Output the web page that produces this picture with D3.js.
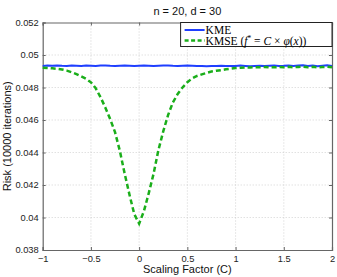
<!DOCTYPE html>
<html>
<head>
<meta charset="utf-8">
<style>
  body { margin: 0; background: #fff; }
  text { font-family: "Liberation Sans", Arial, sans-serif; }
</style>
</head>
<body>
<svg width="337" height="277"></svg>
<script src="https://d3js.org/d3.v7.min.js"></script>
<script>

// scaling factor C and risks
var cValues = [-1, -0.95, -0.9, -0.85, -0.8, -0.75, -0.7, -0.65, -0.6, -0.55, -0.5, -0.45, -0.4, -0.35, -0.3,
    -0.25, -0.2, -0.15, -0.1, -0.05, 0, 0.05, 0.1, 0.15, 0.2, 0.25, 0.3, 0.35, 0.4, 0.45, 0.5, 0.55, 0.6,
    0.65, 0.7, 0.75, 0.8, 0.85, 0.9, 0.95, 1, 1.05, 1.1, 1.15, 1.2, 1.25, 1.3, 1.35, 1.4, 1.45, 1.5, 1.55,
    1.6, 1.65, 1.7, 1.75, 1.8, 1.85, 1.9, 1.95, 2];

var kme = [0.04933, 0.04935, 0.04934, 0.04936, 0.04934, 0.04933, 0.04935, 0.04934, 0.04933, 0.04935, 0.04934,
    0.04933, 0.04935, 0.04936, 0.04934, 0.04933, 0.04934, 0.04935, 0.04934, 0.04933, 0.04934, 0.04935, 0.04934,
    0.04933, 0.04934, 0.04935, 0.04936, 0.04934, 0.04933, 0.04934, 0.04935, 0.04934, 0.04933, 0.04932, 0.04931,
    0.04932, 0.04933, 0.04934, 0.04933, 0.04932, 0.04933, 0.04935, 0.04933, 0.04931, 0.04933, 0.04934, 0.04932,
    0.04934, 0.04935, 0.04933, 0.04934, 0.04936, 0.04933, 0.04935, 0.04937, 0.04933, 0.04936, 0.04931, 0.04934,
    0.04937, 0.04932];

var kmse = [0.04922, 0.04920, 0.04918, 0.04915, 0.04911, 0.04904, 0.04894, 0.04882, 0.04868, 0.04853, 0.04832,
    0.04795, 0.04740, 0.04676, 0.04605, 0.04525, 0.04410, 0.04270, 0.04140, 0.04020, 0.03962, 0.04040, 0.04150,
    0.04270, 0.04415, 0.04530, 0.04630, 0.04708, 0.04760, 0.04800, 0.04833, 0.04856, 0.04871, 0.04881, 0.04890,
    0.04898, 0.04903, 0.04907, 0.04912, 0.04916, 0.04920, 0.04922, 0.04924, 0.04923, 0.04925, 0.04924, 0.04926,
    0.04925, 0.04924, 0.04926, 0.04925, 0.04927, 0.04925, 0.04926, 0.04928, 0.04925, 0.04927, 0.04924, 0.04926,
    0.04928, 0.04925];

var xTicks = [-1, -0.5, 0, 0.5, 1, 1.5, 2];
var yTicks = [0.038, 0.04, 0.042, 0.044, 0.046, 0.048, 0.05, 0.052];

var svg = d3.select("svg"),
    margin = {top: 22.5, right: 5, bottom: 27, left: 42.7},
    width = 337 - margin.left - margin.right,
    height = 277 - margin.top - margin.bottom,
    g = svg.append("g").attr("transform", "translate(" + margin.left + "," + margin.top + ")");

var x = d3.scaleLinear().domain([-1, 2]).range([0, width]);
var y = d3.scaleLinear().domain([0.038, 0.052]).range([height, 0]);

// dotted grid
g.selectAll(".gx").data(xTicks.slice(1, -1)).enter().append("line")
    .attr("x1", d => x(d)).attr("x2", d => x(d))
    .attr("y1", 0).attr("y2", height)
    .attr("stroke", "#c8c8c8").attr("stroke-width", 0.8).attr("stroke-dasharray", "1,2");
g.selectAll(".gy").data(yTicks.slice(1, -1)).enter().append("line")
    .attr("x1", 0).attr("x2", width)
    .attr("y1", d => y(d)).attr("y2", d => y(d))
    .attr("stroke", "#c8c8c8").attr("stroke-width", 0.8).attr("stroke-dasharray", "1,2");

// axes
var fmt = d => d === 0.04 ? "0.04" : d === 0.05 ? "0.05" : d3.format(".3f")(d);
var xAxis = g.append("g").attr("transform", "translate(0," + height + ")")
    .call(d3.axisBottom(x).tickValues(xTicks).tickSize(-3).tickPadding(5)
        .tickFormat(d => d < 0 ? "\u2212" + Math.abs(d) : d));
var yAxis = g.append("g")
    .call(d3.axisLeft(y).tickValues(yTicks).tickSize(-3).tickPadding(4).tickFormat(fmt));
var xTop = g.append("g").call(d3.axisTop(x).tickValues(xTicks).tickSize(-3).tickFormat(""));
var yRight = g.append("g").attr("transform", "translate(" + width + ",0)")
    .call(d3.axisRight(y).tickValues(yTicks).tickSize(-3).tickFormat(""));

[xAxis, yAxis, xTop, yRight].forEach(function (a) {
    a.selectAll("path").attr("stroke", "#666").attr("stroke-width", 1.2);
    a.selectAll("line").attr("stroke", "#666");
    a.selectAll("text").attr("font-size", 9.3).attr("fill", "#222")
        .style("font-family", "'Liberation Sans', Arial, sans-serif");
});

var line = d3.line().x((d, i) => x(cValues[i])).y(d => y(d));

g.append("path").datum(kme)
    .attr("d", line)
    .attr("fill", "none")
    .attr("stroke", "#1f3fff")
    .attr("stroke-width", 2);

g.append("path").datum(kmse)
    .attr("d", line)
    .attr("fill", "none")
    .attr("stroke", "#1aae1a")
    .attr("stroke-width", 2.5)
    .attr("stroke-dasharray", "5,3");

// legend
var lg = g.append("g").attr("transform", "translate(" + x(0.43) + ",0)");
lg.append("rect")
    .attr("x", 0).attr("y", 0)
    .attr("width", width - x(0.43)).attr("height", 24)
    .attr("fill", "#fff").attr("stroke", "#222").attr("stroke-width", 1);
lg.append("line").attr("x1", 4).attr("x2", 24).attr("y1", 7.5).attr("y2", 7.5)
    .attr("stroke", "#1f3fff").attr("stroke-width", 2);
lg.append("line").attr("x1", 4).attr("x2", 24).attr("y1", 18).attr("y2", 18)
    .attr("stroke", "#1aae1a").attr("stroke-width", 2.5).attr("stroke-dasharray", "4,2.5");
var serif = "'Liberation Serif', 'Times New Roman', serif";
lg.append("text").attr("x", 25).attr("y", 11.5).attr("font-size", 11.5)
    .style("font-family", serif).text("KME");
var t2 = lg.append("text").attr("x", 25).attr("y", 22).attr("font-size", 11.5)
    .style("font-family", serif);
t2.append("tspan").text("KMSE (");
t2.append("tspan").attr("font-style", "italic").text("f");
t2.append("tspan").attr("font-size", 7.5).attr("dy", -4).text("*");
t2.append("tspan").attr("dy", 4).text(" = ");
t2.append("tspan").attr("font-style", "italic").text("C");
t2.append("tspan").text(" \u00d7 ");
t2.append("tspan").attr("font-style", "italic").text("\u03c6");
t2.append("tspan").text("(");
t2.append("tspan").attr("font-style", "italic").text("x");
t2.append("tspan").text("))");

// title and labels
svg.append("text").attr("x", margin.left + width / 2).attr("y", 15)
    .attr("text-anchor", "middle").attr("font-size", 11).attr("fill", "#111")
    .text("n = 20, d = 30");
svg.append("text").attr("x", margin.left + width / 2).attr("y", 273)
    .attr("text-anchor", "middle").attr("font-size", 11).attr("fill", "#111")
    .text("Scaling Factor (C)");
svg.append("text")
    .attr("transform", "translate(11," + (margin.top + height / 2) + ") rotate(-90)")
    .attr("text-anchor", "middle").attr("font-size", 11).attr("fill", "#111")
    .text("Risk (10000 iterations)");

</script>
</body>
</html>
